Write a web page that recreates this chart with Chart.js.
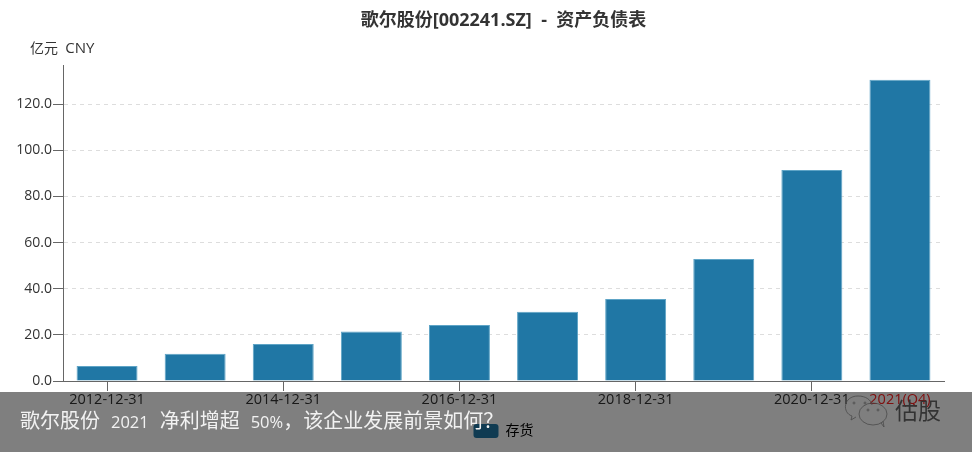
<!DOCTYPE html>
<html lang="zh">
<head>
    <meta charset="UTF-8">
    <title>歌尔股份 资产负债表</title>
    <script src="https://cdn.jsdelivr.net/npm/chart.js"></script>
    <style>
        html, body { margin: 0; padding: 0; background: #fff; overflow: hidden; }
        #wrap { position: relative; width: 972px; height: 452px; font-family: "Open Sans", "Noto Sans CJK SC", sans-serif; }
        #unit { position: absolute; left: 30px; top: 37px; font-size: 14px; line-height: 20px; color: #333; white-space: pre; }
        #unit span { font-size: 15px; }
        #band { position: absolute; left: 0; top: 392px; width: 972px; height: 60px; background: rgba(0, 0, 0, 0.5); }
        #headline { position: absolute; left: 20px; top: 14px; font-family: "Noto Sans CJK SC", sans-serif; font-size: 20px; line-height: 28px; color: #f2f2f2; white-space: pre; word-spacing: 1px; }
        #headline span { font-family: "Open Sans", sans-serif; font-size: 16.5px; }
        #mark { position: absolute; left: 895px; top: 2px; font-size: 23px; line-height: 32px; color: #333; }
        #icon { position: absolute; left: 840px; top: 0; }
    </style>
</head>
<body>
<div id="wrap">
    <canvas id="chart" width="972" height="452"></canvas>
    <div id="unit">亿元  <span>CNY</span></div>
    <div id="band">
        <div id="headline">歌尔股份  <span>2021</span>  净利增超  <span>50%</span>，该企业发展前景如何？</div>
        <svg id="icon" width="60" height="44" fill="none" stroke="#4a4a4a" stroke-width="0.8">
            <path d="M12 24 C2 21 3 4 18 4 C26 4 31 8 32 13"/>
            <path d="M12 24 L11 28 L16 25"/>
            <ellipse cx="33" cy="22" rx="14" ry="11"/>
            <path d="M41 31 L44 35 L43 29"/>
            <circle cx="14" cy="11" r="1"/>
            <circle cx="25" cy="11" r="1"/>
            <circle cx="28" cy="18" r="1"/>
            <circle cx="38" cy="18" r="1"/>
        </svg>
        <div id="mark">估股</div>
    </div>
</div>

<script>
    // Data
    const categories = ['2012-12-31', '2013-12-31', '2014-12-31', '2015-12-31', '2016-12-31',
                        '2017-12-31', '2018-12-31', '2019-12-31', '2020-12-31', '2021(Q4)'];
    const inventory = [6.5, 11.8, 16.0, 21.5, 24.3, 30.0, 35.5, 52.9, 91.5, 130.6];
    const xTickLabels = ['2012-12-31', '', '2014-12-31', '', '2016-12-31',
                         '', '2018-12-31', '', '2020-12-31', '2021(Q4)'];
    const yTicks = [0, 20, 40, 60, 80, 100, 120];
    const lastIndex = categories.length - 1;

    const fontFamily = '"Open Sans", "Noto Sans CJK SC", sans-serif';

    new Chart(document.getElementById('chart'), {
        type: 'bar',
        data: {
            labels: categories,
            datasets: [{
                label: '存货',
                data: inventory,
                backgroundColor: '#2077a5',
                borderColor: '#5ea4c6',
                borderWidth: 1,
                barPercentage: 0.692,
                categoryPercentage: 1
            }]
        },
        options: {
            responsive: false,
            animation: false,
            layout: { padding: { left: 0, right: 28, top: 0, bottom: 4 } },
            plugins: {
                tooltip: { enabled: false },
                title: {
                    display: true,
                    fullSize: false,
                    text: '歌尔股份[002241.SZ]  -  资产负债表',
                    color: '#333',
                    font: { family: fontFamily, size: 18, weight: 'bold', lineHeight: 1.25 },
                    padding: { top: 10, bottom: 32.5 }
                },
                legend: {
                    position: 'bottom',
                    fullSize: false,
                    labels: {
                        boxWidth: 25,
                        boxHeight: 14,
                        padding: 5,
                        useBorderRadius: true,
                        borderRadius: 3,
                        color: '#333',
                        font: { family: fontFamily, size: 14 },
                        generateLabels: chart => [{
                            text: chart.data.datasets[0].label,
                            fillStyle: '#2077a5',
                            strokeStyle: '#2077a5',
                            lineWidth: 0,
                            borderRadius: 3,
                            datasetIndex: 0
                        }]
                    }
                }
            },
            scales: {
                x: {
                    afterFit: scale => { scale.height = 38; },
                    border: { color: '#666', width: 1 },
                    grid: {
                        offset: false,
                        drawOnChartArea: false,
                        tickLength: 10,
                        tickColor: ctx => (xTickLabels[ctx.index] && ctx.index !== lastIndex) ? '#666' : 'rgba(0,0,0,0)'
                    },
                    ticks: {
                        autoSkip: false,
                        maxRotation: 0,
                        padding: 0,
                        font: { family: fontFamily, size: 14.5 },
                        color: ctx => ctx.index === lastIndex ? '#ff2020' : '#333',
                        callback: (value, index) => xTickLabels[index]
                    }
                },
                y: {
                    min: 0,
                    max: 137,
                    afterFit: scale => { scale.width = 63; },
                    afterBuildTicks: scale => { scale.ticks = yTicks.map(value => ({ value })); },
                    border: { color: '#666', width: 1, dash: [4, 4] },
                    grid: {
                        color: '#ddd',
                        tickColor: '#666',
                        tickLength: 10,
                        tickBorderDash: []
                    },
                    ticks: {
                        padding: 1,
                        font: { family: fontFamily, size: 14 },
                        color: '#333',
                        callback: value => value.toFixed(1)
                    }
                }
            }
        }
    });
</script>
</body>
</html>
